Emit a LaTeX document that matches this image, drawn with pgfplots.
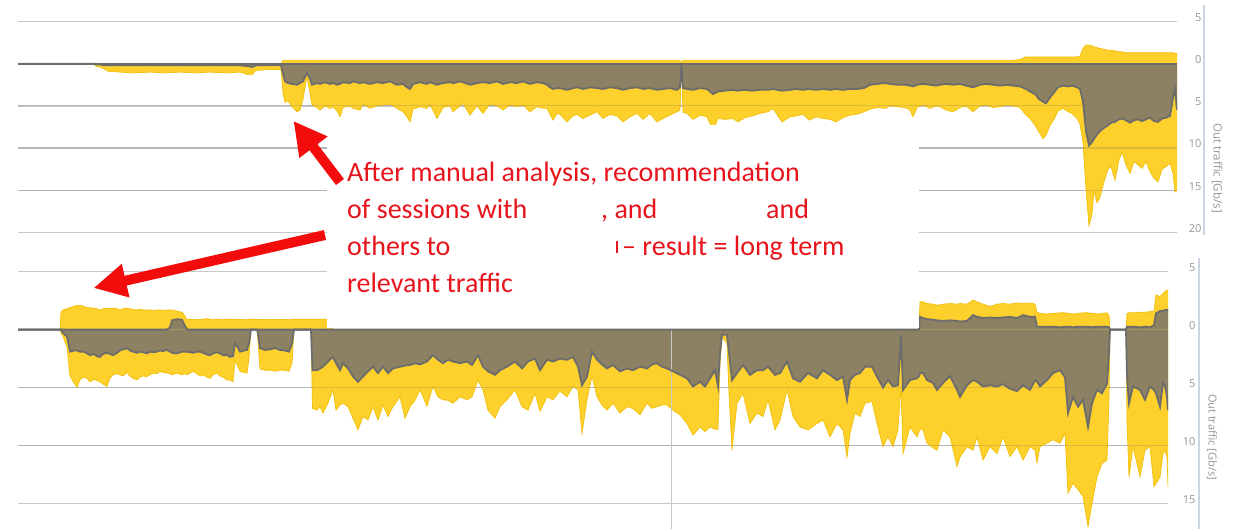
\documentclass[border=0pt]{standalone}
\usepackage{pgfplots}
\pgfplotsset{compat=1.18}
\usepackage{pgfplotstable}
\usetikzlibrary{arrows.meta}
\usepackage{fontspec}
\setmainfont{Open Sans}
\newfontfamily\carlito{Carlito}
\newfontfamily\opensans{Open Sans}

\definecolor{yel}{RGB}{253,208,44}
\definecolor{yeledge}{RGB}{240,192,10}
\definecolor{oli}{RGB}{140,129,98}
\definecolor{darkln}{RGB}{108,108,108}
\definecolor{gridc}{RGB}{200,200,200}
\definecolor{axisc}{RGB}{205,213,224}
\definecolor{tickgray}{RGB}{150,150,150}
\definecolor{txtred}{RGB}{232,20,28}
\definecolor{arrred}{RGB}{242,12,12}

\pgfplotstableread{
x yt dt db yb
18 0 0 0 0
94 0 0 0 0
96 0 0 0.1 0.3
100 0 0 0.1 0.4
104 0 0 0.2 0.6
108 0 0 0.2 0.9
120 0 0 0.2 1.0
135 0 0 0.2 1.1
150 0 0 0.2 1.0
165 0 0 0.2 1.1
180 0 0 0.2 1.0
195 0 0 0.2 1.1
210 0 0 0.2 1.0
225 0 0 0.2 1.1
240 0 0 0.2 1.0
248 0 0 0.3 1.3
252 0 0 0.4 1.3
256 0 0 0.2 0.8
268 0 0 0.2 0.7
281 0 0 0.2 0.7
283 -0.4 0 1.2 3.5
285 -0.4 0 2.1 4.6
288 -0.4 0 2.3 4.4
292 -0.4 0 2.4 5.1
297 -0.4 0 2.5 5.7
300 -0.4 0 2.3 5.5
303 -0.4 0 2.1 4.2
307 -0.4 0 1.1 1.5
310 -0.4 0 1.8 3.5
312 -0.4 0 2.5 4.9
317 -0.4 0 2.3 5.2
320 -0.4 0 2.4 5.5
325 -0.4 0 2.2 5.0
330 -0.4 0 2.4 5.3
333 -0.4 0 2.3 5.1
337 -0.4 0 2.5 5.6
340 -0.4 0 2.4 6.3
343 -0.4 0 2.2 5.2
350 -0.4 0 2.3 5.0
353 -0.4 0 2.1 5.3
360 -0.4 0 2.3 5.5
363 -0.4 0 2.2 4.8
370 -0.4 0 2.4 5.3
377 -0.4 0 2.2 5.0
383 -0.4 0 2.3 4.9
390 -0.4 0 2.1 4.8
397 -0.4 0 2.5 5.3
403 -0.4 0 2.4 5.7
407 -0.4 0 2.8 6.3
410 -0.4 0 3.0 6.9
413 -0.4 0 2.4 5.4
420 -0.4 0 2.2 5.1
427 -0.4 0 2.4 5.3
430 -0.4 0 2.2 4.8
437 -0.4 0 2.5 6.5
443 -0.4 0 2.3 5.2
450 -0.4 0 2.2 5.0
453 -0.4 0 2.3 5.7
460 -0.4 0 2.1 5.0
463 -0.4 0 2.2 4.7
470 -0.4 0 2.5 6.1
477 -0.4 0 2.3 5.0
483 -0.4 0 2.2 5.9
490 -0.4 0 2.3 4.8
497 -0.4 0 2.1 5.0
503 -0.4 0 2.4 5.5
510 -0.4 0 2.2 4.9
517 -0.4 0 2.3 5.1
523 -0.4 0 2.1 4.9
530 -0.4 0 2.4 5.7
537 -0.4 0 2.2 5.1
543 -0.4 0 2.3 5.3
547 -0.4 0 2.5 5.3
550 -0.4 0 2.8 6.0
553 -0.4 0 3.0 6.7
557 -0.4 0 2.9 5.9
560 -0.4 0 2.9 6.0
567 -0.4 0 3.1 6.9
573 -0.4 0 2.9 6.2
577 -0.4 0 2.8 6.0
583 -0.4 0 3.0 6.5
590 -0.4 0 2.8 6.1
597 -0.4 0 2.9 5.7
603 -0.4 0 3.0 6.5
610 -0.4 0 2.8 6.0
617 -0.4 0 2.9 6.2
623 -0.4 0 3.1 6.9
630 -0.4 0 2.9 6.3
637 -0.4 0 2.8 5.9
643 -0.4 0 3.0 6.6
650 -0.4 0 2.9 5.9
657 -0.4 0 3.1 6.9
663 -0.4 0 3.0 6.5
670 -0.4 0 2.9 6.1
677 -0.4 0 3.1 5.7
680 -0.4 0 2.8 5.5
681.5 0 0 0 0
683 -0.4 0 2.9 5.8
687 -0.4 0 3.0 5.9
693 -0.4 0 3.1 6.6
700 -0.4 0 2.9 6.1
707 -0.4 0 3.0 6.3
713 -0.4 0 3.6 7.9
718 -0.4 0 3.3 6.5
725 -0.4 0 3.2 6.6
733 -0.4 0 3.1 6.5
738 -0.4 0 3.2 6.9
745 -0.4 0 3.1 6.4
752 -0.4 0 3.2 6.2
760 -0.4 0 3.1 5.9
768 -0.4 0 3.1 5.7
773 -0.4 0 3.0 5.3
782 -0.4 0 3.2 6.9
790 -0.4 0 3.1 6.3
796 -0.4 0 3.0 6.2
803 -0.4 0 3.1 6.0
809 -0.4 0 3.0 6.7
816 -0.4 0 3.1 6.3
823 -0.4 0 3.0 6.5
830 -0.4 0 3.1 6.6
836 -0.4 0 3.0 6.9
843 -0.4 0 3.1 6.4
850 -0.4 0 3.0 6.1
857 -0.4 0 3.0 6.0
864 -0.4 0 2.9 5.7
870 -0.4 0 2.5 5.4
877 -0.4 0 2.4 5.2
885 -0.4 0 2.3 5.3
890 -0.4 0 2.4 5.0
897 -0.4 0 2.5 5.1
905 -0.4 0 2.5 5.2
910 -0.4 0 2.6 5.5
913 -0.4 0 2.7 6.3
917 -0.4 0 2.5 5.2
923 -0.4 0 2.4 4.9
930 -0.4 0 2.5 5.3
936 -0.4 0 2.6 5.0
940 -0.4 0 2.5 5.1
946 -0.4 0 2.4 5.5
953 -0.4 0 2.5 5.7
960 -0.4 0 2.4 5.2
966 -0.4 0 2.6 5.0
973 -0.4 0 2.8 5.7
980 -0.4 0 2.5 5.0
986 -0.4 0 2.4 4.9
993 -0.4 0 2.5 5.2
1000 -0.4 0 2.6 5.1
1007 -0.4 0 2.5 4.9
1013 -0.4 0 2.6 5.0
1020 -0.5 0 2.7 5.2
1026 -0.8 0 3.0 6.1
1030 -0.8 0 3.3 6.5
1035 -0.8 0 3.6 7.3
1039 -0.8 0 4.2 8.1
1043 -0.8 0 4.5 8.9
1046 -0.8 0 4.7 8.5
1050 -0.8 0 4.0 7.3
1054 -0.8 0 3.4 6.6
1058 -0.8 0 2.8 5.6
1063 -0.8 0 2.6 5.3
1068 -0.8 0 2.7 5.7
1072 -0.8 0 2.6 5.9
1077 -0.8 0 2.8 6.5
1080 -0.9 0 3.0 7.2
1083 -1.8 0 4.5 9.3
1086 -2.2 0 8.0 15.0
1089 -2.2 0 9.7 19.2
1092 -2.1 0 9.3 17.8
1094 -2.0 0 8.9 15.0
1097 -1.9 0 8.4 16.5
1100 -1.8 0 8.0 15.8
1104 -1.7 0 7.6 14.0
1108 -1.6 0 7.3 12.5
1111 -1.6 0 7.0 12.2
1115 -1.5 0 6.9 13.8
1119 -1.4 0 6.6 11.4
1122 -1.4 0 6.5 10.5
1126 -1.3 0 6.7 12.0
1130 -1.3 0 7.0 13.0
1134 -1.3 0 6.7 11.6
1138 -1.3 0 6.6 12.0
1142 -1.3 0 6.8 12.4
1146 -1.3 0 6.6 11.6
1150 -1.3 0 6.4 12.8
1154 -1.3 0 6.8 13.6
1158 -1.3 0 6.9 14.0
1162 -1.3 0 6.5 12.5
1166 -1.3 0 6.4 12.2
1170 -1.3 0 6.2 11.8
1173 -1.3 0 4.0 13.0
1175 -1.2 0 3.0 15.2
1177 -1.2 0 5.5 15.0
}\topdata

\pgfplotstableread{
x yt dt db yb
18 0 0 0 0
60 0 0 0 0
61 -1.5 0 0 0.3
63 -1.7 0 0.3 0.6
67 -1.8 0 0.6 1.5
70 -1.9 0 1.9 4.0
74 -2.0 0 1.8 4.6
77 -2.1 0 1.8 5.0
80 -2.1 0 1.9 4.3
84 -2.0 0 1.9 4.1
87 -1.9 0 2.05 4.2
90 -1.9 0 2.2 4.5
94 -1.85 0 2.1 4.3
97 -1.8 0 2.3 4.4
100 -1.7 0 2.35 4.5
103 -1.8 0 2.1 4.7
107 -1.85 0 2.0 4.9
110 -1.8 0 2.1 4.2
113 -1.85 0 2.2 3.9
117 -1.8 0 2.0 3.8
120 -1.7 0 1.8 3.9
123 -1.8 0 1.7 4.0
127 -1.85 0 1.6 3.7
130 -1.8 0 1.8 4.0
133 -1.75 0 1.9 4.2
137 -1.7 0 2.0 4.35
140 -1.75 0 1.9 4.1
143 -1.7 0 1.95 4.0
147 -1.7 0 2.05 4.05
150 -1.7 0 1.9 3.9
153 -1.65 0 1.95 3.75
157 -1.7 0 1.9 3.8
160 -1.7 0 1.8 3.6
163 -1.65 0 1.85 3.7
167 -1.7 0 1.75 3.75
170 -1.7 -0.2 1.9 3.8
172 -1.7 -0.8 2.0 3.9
177 -1.6 -0.9 2.05 3.75
182 -1.5 -0.85 1.9 3.9
184 -1.3 -0.5 1.9 3.8
187 -0.85 0 1.9 3.9
190 -0.9 0 1.95 3.75
193 -0.85 0 2.0 3.6
197 -0.9 0 1.9 3.8
200 -0.85 0 1.9 4.0
203 -0.9 0 2.0 3.9
207 -0.95 0 2.15 4.1
210 -0.9 0 2.2 4.2
213 -0.85 0 2.05 3.9
217 -0.9 0 1.95 3.75
220 -0.9 0 2.05 4.0
223 -0.85 0 2.2 4.1
227 -0.9 0 2.2 4.35
230 -0.9 0 2.35 4.35
233 -0.9 0 2.3 4.5
235 -0.9 0 1.2 2.7
237 -0.85 0 1.4 3.0
240 -0.9 0 1.9 3.6
244 -0.85 0 1.8 3.7
247 -0.85 0 1.75 3.75
249 -0.9 0 1.2 2.5
251 -0.9 0 0 0
257 -0.9 0 0 0
258 -0.9 0 0.3 1.0
260 -0.85 0 1.6 3.4
265 -0.9 0 1.75 3.5
270 -0.85 0 1.7 3.5
275 -0.9 0 1.6 3.6
280 -0.85 0 1.75 3.5
285 -0.9 0 1.8 3.5
289 -0.85 0 1.9 3.6
292 -0.9 0 1.2 2.9
294 -0.9 0 0 0
311 -0.9 0 0 0
312.5 -0.9 0 3.5 6.8
317 -0.9 0 3.5 6.95
320 -0.9 0 3.35 6.65
323 -0.9 0 3.2 7.2
328 -0.9 0 2.75 6.35
333 0 0 2.35 5.2
336 0 0 2.9 6.95
340 0 0 3.5 6.5
343 0 0 2.9 6.35
348 0 0 3.35 6.65
353 0 0 4.05 7.65
358 0 0 4.5 8.65
363 0 0 4.05 7.5
368 0 0 3.6 7.8
373 0 0 3.2 6.65
378 0 0 3.75 7.8
383 0 0 3.2 6.5
388 0 0 3.75 7.5
393 0 0 3.35 6.65
400 0 0 3.2 5.8
405 0 0 3.1 7.65
410 0 0 3.05 6.65
415 0 0 2.9 6.1
420 0 0 3.0 5.2
427 0 0 2.75 6.6
433 0 0 2.2 4.9
438 0 0 2.6 5.8
443 0 0 2.9 6.05
448 0 0 2.6 6.1
453 0 0 2.75 6.35
460 0 0 2.9 5.8
467 0 0 2.75 6.05
472 0 0 3.05 5.8
478 0 0 2.2 4.35
483 0 0 3.2 5.2
488 0 0 3.6 6.95
495 0 0 3.9 7.65
500 0 0 3.5 6.65
507 0 0 3.2 6.05
515 0 0 2.75 5.2
522 0 0 3.35 6.65
528 0 0 2.75 6.95
535 0 0 2.5 5.5
540 0 0 3.5 7.05
547 0 0 2.6 5.8
553 0 0 2.75 6.05
560 0 0 2.5 5.3
567 0 0 2.6 5.8
573 0 0 2.35 4.9
578 0 0 3.2 5.2
582 0 0 4.8 8.95
587 0 0 4.05 6.05
592 0 0 1.9 4.0
597 0 0 2.6 5.8
602 0 0 3.0 6.5
607 0 0 3.35 6.95
613 0 0 3.05 6.35
620 0 0 3.6 7.2
627 0 0 3.35 6.65
633 0 0 3.5 6.8
640 0 0 3.2 7.35
647 0 0 3.35 6.35
652 0 0 3.0 6.8
657 0 0 2.9 6.65
662 0 0 3.2 6.5
667 0 0 3.35 6.5
673 0 0 3.6 6.95
680 0 0 3.9 7.35
687 0 0 4.2 8.1
693 0 0 4.9 9.1
700 0 0 4.5 8.4
705 0 0 4.9 8.8
710 0 0 4.2 8.4
715 0 0 3.5 8.6
718 0 0 4.9 8.6
720 0 0 2.0 3.0
722 0 0 0.45 0.6
727 0 0 0.45 1.2
729 0 0 2.0 5.5
732 0 0 4.35 10.4
737 0 0 3.75 6.35
743 0 0 3.05 5.5
750 0 0 3.9 8.1
757 0 0 3.5 7.2
763 0 0 3.5 7.5
768 0 0 3.2 6.05
775 0 0 3.9 8.65
780 0 0 3.75 7.8
787 0 0 2.75 5.2
793 0 0 4.2 7.5
800 0 0 4.5 8.4
808 0 0 3.75 8.65
817 0 0 4.2 8.1
823 0 0 3.5 7.8
830 0 0 3.9 9.25
837 0 0 4.35 8.1
843 0 0 4.05 8.65
847 0 0 6.05 11.0
850 0 0 4.35 8.95
855 0 0 3.9 7.2
860 0 0 3.75 7.5
865 0 0 3.2 6.35
872 0 0 3.2 6.2
877 0 0 4.05 8.1
883 0 0 5.0 10.1
888 0 0 4.35 9.25
893 0 0 4.9 10.1
898 0 0 4.8 8.65
900 0 0 2.0 6.0
901 0 0 0.45 5.0
903 0 0 5.2 10.7
910 0 0 4.35 8.4
917 0 0 4.2 9.25
919 0 0 4.0 8.8
920 -2.4 -1.1 3.75 8.65
923 -2.4 -1.0 3.75 8.65
927 -2.25 -0.9 4.35 9.8
933 -2.2 -0.85 4.6 10.2
937 -2.1 -0.8 5.2 10.4
943 -2.2 -0.75 4.6 8.65
950 -2.25 -0.8 4.0 9.25
957 -2.2 -0.75 5.2 11.8
960 -2.25 -0.7 5.8 11.0
967 -2.2 -0.75 4.8 10.1
973 -2.55 -1.25 4.35 10.4
977 -2.4 -1.1 4.5 9.25
983 -2.2 -1.0 4.9 11.25
990 -2.0 -1.05 4.8 10.1
997 -2.2 -1.0 4.9 10.7
1003 -2.25 -1.05 4.7 9.25
1010 -2.2 -1.1 5.1 10.95
1017 -2.3 -1.0 5.3 10.1
1023 -2.25 -1.25 4.8 11.25
1030 -2.3 -1.1 5.2 10.1
1035 -2.2 -1.1 4.35 10.4
1037 -1.5 -0.25 4.5 11.5
1040 -1.4 -0.25 4.9 10.1
1047 -1.35 -0.25 4.35 9.8
1053 -1.4 -0.25 3.75 9.5
1060 -1.45 -0.2 3.5 9.8
1065 -1.45 -0.25 4.1 8.95
1068 -1.4 -0.25 7.2 14.1
1073 -1.35 -0.2 5.8 13.25
1078 -1.4 -0.25 6.65 13.8
1083 -1.45 -0.25 6.05 14.4
1088 -1.45 -0.25 8.4 17.0
1092 -1.4 -0.2 6.35 15.0
1097 -1.35 -0.25 5.2 12.7
1102 -1.4 -0.25 5.5 11.55
1107 -1.45 -0.25 4.65 11.25
1109 -1.2 -0.2 2.0 6.0
1110 0 0 0 0
1126 0 0 0 0
1127 -1.4 -0.25 4.0 8.0
1129 -1.45 -0.25 6.35 12.7
1133 -1.45 -0.25 4.9 10.1
1140 -1.5 -0.2 5.2 12.7
1145 -1.5 -0.25 6.05 10.4
1150 -1.55 -0.2 4.9 10.1
1154 -1.6 -0.4 5.2 13.55
1156 -3.0 -1.4 5.5 13.3
1160 -2.85 -1.6 6.65 12.7
1163 -3.1 -1.6 4.6 10.7
1165 -3.3 -1.7 4.9 10.4
1167 -3.4 -1.7 5.8 11.0
1168 -3.4 -1.7 6.95 13.55
}\botdata

\pgfplotsset{
  traffic/.style={
    scale only axis, anchor=south west, y dir=reverse,
    axis line style={draw=none}, xtick=\empty,
    yticklabel pos=right, ytick style={draw=none},
    yticklabel style={anchor=east, yshift=4pt,
      font=\opensans\fontsize{11}{12}\selectfont, text=tickgray},
  },
}

\begin{document}
\begin{tikzpicture}
\fill[white] (0pt,0pt) rectangle (1235pt,529pt);

% ---------------- top chart ----------------
\begin{axis}[traffic, name=topax, at={(18pt,294pt)},
  width=1159pt, height=230pt, xmin=18, xmax=1177, ymin=-6.95, ymax=20.3,
  ytick={-5,0,5,10,15,20}, yticklabels={5,0,5,10,15,20},
  yticklabel style={xshift=28pt}]
\addplot[gridc, line width=1.4pt] coordinates {(18,-5) (1177,-5)};
\addplot[gridc, line width=1.4pt] coordinates {(18,5) (1177,5)};
\addplot[gridc, line width=1.4pt] coordinates {(18,10) (1177,10)};
\addplot[gridc, line width=1.4pt] coordinates {(18,15) (1177,15)};
\addplot[gridc, line width=1.4pt] coordinates {(18,20) (1177,20)};
\addplot[fill=yel, draw=none] table[x=x,y=yt]{\topdata} \closedcycle;
\addplot[fill=yel, draw=none] table[x=x,y=yb]{\topdata} \closedcycle;
\addplot[yeledge, line width=0.7pt] table[x=x,y=yb]{\topdata};
\addplot[yeledge, line width=0.7pt] table[x=x,y=yt]{\topdata};
\addplot[fill=oli, draw=none] table[x=x,y=dt]{\topdata} \closedcycle;
\addplot[fill=oli, draw=none] table[x=x,y=db]{\topdata} \closedcycle;
\addplot[gridc!60!black, opacity=0.25, line width=1.2pt] coordinates {(18,5) (1177,5)};
\addplot[gridc!60!black, opacity=0.25, line width=1.2pt] coordinates {(18,10) (1177,10)};
\addplot[gridc!60!black, opacity=0.25, line width=1.2pt] coordinates {(18,15) (1177,15)};
\addplot[darkln, line width=1.8pt] table[x=x,y=db]{\topdata};
\addplot[darkln, line width=1.8pt] table[x=x,y=dt]{\topdata};
\end{axis}
\draw[axisc, line width=1.3pt] ([xshift=27pt]topax.south east) -- ([xshift=27pt]topax.north east);
\node[rotate=-90, font=\opensans\fontsize{11.5}{13}\selectfont, text=tickgray] at (1217pt,361pt) {Out traffic [Gb/s]};

% ---------------- bottom chart ----------------
\begin{axis}[traffic, name=botax, at={(18pt,0pt)},
  width=1150pt, height=271pt, xmin=18, xmax=1168, ymin=-6.18, ymax=17.2,
  ytick={-5,0,5,10,15}, yticklabels={5,0,5,10,15},
  yticklabel style={xshift=31pt}]
\addplot[gridc, line width=1.4pt] coordinates {(18,-5) (1168,-5)};
\addplot[gridc, line width=1.4pt] coordinates {(18,5) (1168,5)};
\addplot[gridc, line width=1.4pt] coordinates {(18,10) (1168,10)};
\addplot[gridc, line width=1.4pt] coordinates {(18,15) (1168,15)};
\addplot[fill=yel, draw=none] table[x=x,y=yt]{\botdata} \closedcycle;
\addplot[fill=yel, draw=none] table[x=x,y=yb]{\botdata} \closedcycle;
\addplot[yeledge, line width=0.7pt] table[x=x,y=yb]{\botdata};
\addplot[yeledge, line width=0.7pt] table[x=x,y=yt]{\botdata};
\addplot[fill=oli, draw=none] table[x=x,y=dt]{\botdata} \closedcycle;
\addplot[fill=oli, draw=none] table[x=x,y=db]{\botdata} \closedcycle;
\addplot[gridc!60!black, opacity=0.25, line width=1.2pt] coordinates {(18,5) (1168,5)};
\addplot[gridc!60!black, opacity=0.25, line width=1.2pt] coordinates {(18,10) (1168,10)};
\addplot[gridc, line width=0.8pt] coordinates {(671,0) (671,17.2)};
\addplot[darkln, line width=1.8pt] table[x=x,y=db]{\botdata};
\addplot[darkln, line width=1.8pt] table[x=x,y=dt]{\botdata};
\end{axis}
\draw[axisc, line width=1.3pt] ([xshift=31pt]botax.south east) -- ([xshift=31pt]botax.north east);
\node[rotate=-90, font=\opensans\fontsize{11}{13}\selectfont, text=tickgray] at (1212pt,92pt) {Out traffic [Gb/s]};

% ---------------- annotation ----------------
\fill[white] (327pt,200.5pt) rectangle (919pt,404pt);
\draw[arrred, line width=10pt, -{Triangle[length=33pt,width=33pt]}] (340pt,347pt) -- (293.5pt,408pt);
\draw[arrred, line width=10pt, -{Triangle[length=33pt,width=32pt]}] (325pt,294pt) -- (93.5pt,241pt);
\begin{scope}[every node/.style={anchor=base west, inner sep=0pt, text=txtred,
    font=\carlito\fontsize{28}{30}\selectfont}]
\node at (347pt,347pt) {After manual analysis, recommendation};
\node at (347pt,310pt) {of sessions with};
\node at (601pt,310pt) {, and};
\node at (766pt,310pt) {and};
\node at (347pt,273pt) {others to};
\node at (622pt,273pt) {– result = long term};
\node at (347pt,236pt) {relevant traffic};
\end{scope}
\fill[txtred] (616pt,276pt) rectangle (618pt,288pt);
\pgfresetboundingbox
\path[use as bounding box] (0pt,0pt) rectangle (1235pt,529pt);
\end{tikzpicture}
\end{document}
